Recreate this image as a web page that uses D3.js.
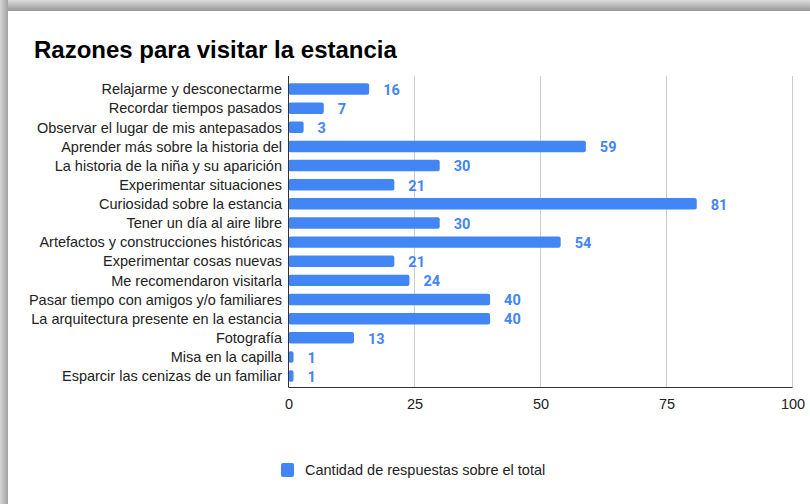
<!DOCTYPE html>
<html>
<head>
<meta charset="utf-8">
<script src="https://cdn.jsdelivr.net/npm/d3@7"></script>
<style>
  html, body { margin: 0; padding: 0; background: #fff; }
  svg { display: block; }
</style>
</head>
<body>
<div class="canvas"></div>
<script>
const categories = [
  'Relajarme y desconectarme',
  'Recordar tiempos pasados',
  'Observar el lugar de mis antepasados',
  'Aprender más sobre la historia del',
  'La historia de la niña y su aparición',
  'Experimentar situaciones',
  'Curiosidad sobre la estancia',
  'Tener un día al aire libre',
  'Artefactos y construcciones históricas',
  'Experimentar cosas nuevas',
  'Me recomendaron visitarla',
  'Pasar tiempo con amigos y/o familiares',
  'La arquitectura presente en la estancia',
  'Fotografía',
  'Misa en la capilla',
  'Esparcir las cenizas de un familiar'
];
const values = [16, 7, 3, 59, 30, 21, 81, 30, 54, 21, 24, 40, 40, 13, 1, 1];
const xTicks = [0, 25, 50, 75, 100];
const seriesName = 'Cantidad de respuestas sobre el total';
const title = 'Razones para visitar la estancia';

const data = categories.map((c, i) => ({ name: c, value: values[i] }));

const dims = { w: 810, h: 504 };
const plot = { left: 288.5, right: 792.5, top: 76, bottom: 387.5 };
const blue = '#4285f4';
const font = 'Arial, "Liberation Sans", sans-serif';

const svg = d3.select('.canvas')
  .append('svg')
    .attr('width', dims.w)
    .attr('height', dims.h);

// frame shadow (screenshot border)
const defs = svg.append('defs');
const gTop = defs.append('linearGradient').attr('id', 'shTop')
  .attr('x1', 0).attr('y1', 0).attr('x2', 0).attr('y2', 1);
gTop.append('stop').attr('offset', '0%').attr('stop-color', '#dcdcdc');
gTop.append('stop').attr('offset', '100%').attr('stop-color', '#979797');
const gLeft = defs.append('linearGradient').attr('id', 'shLeft')
  .attr('x1', 0).attr('y1', 0).attr('x2', 1).attr('y2', 0);
gLeft.append('stop').attr('offset', '0%').attr('stop-color', '#d6d6d6');
gLeft.append('stop').attr('offset', '100%').attr('stop-color', '#a0a0a0');

svg.append('rect').attr('x', 0).attr('y', 0).attr('width', dims.w).attr('height', 11)
  .attr('fill', 'url(#shTop)');
svg.append('rect').attr('x', 0).attr('y', 0).attr('width', 8).attr('height', dims.h)
  .attr('fill', 'url(#shLeft)');

// title
svg.append('text')
  .attr('x', 34)
  .attr('y', 58)
  .attr('font-family', font)
  .attr('font-size', 24)
  .attr('font-weight', 'bold')
  .attr('fill', '#000')
  .text(title);

// scales
const x = d3.scaleLinear()
  .domain([0, 100])
  .range([plot.left, plot.right]);

const y = d3.scaleBand()
  .domain(categories)
  .range([79.5, 385.6])
  .paddingInner(0.4)
  .paddingOuter(0.2);

// gridlines
svg.append('g')
  .selectAll('line')
  .data(xTicks.filter(t => t > 0))
  .join('line')
    .attr('x1', d => x(d))
    .attr('x2', d => x(d))
    .attr('y1', plot.top)
    .attr('y2', plot.bottom)
    .attr('stroke', '#cccccc')
    .attr('stroke-width', 1);

// bars
const graph = svg.append('g');
graph.selectAll('rect')
  .data(data)
  .join('rect')
    .attr('x', x(0))
    .attr('y', d => y(d.name))
    .attr('width', d => Math.max(x(d.value) - x(0), 4))
    .attr('height', y.bandwidth())
    .attr('rx', 2)
    .attr('fill', blue);

// value labels
graph.selectAll('text.val')
  .data(data)
  .join('text')
    .attr('class', 'val')
    .attr('x', d => x(d.value) + 14)
    .attr('y', d => y(d.name) + y.bandwidth() / 2)
    .attr('dy', '0.4em')
    .attr('font-family', 'Roboto, sans-serif')
    .attr('font-weight', 'bold')
    .attr('font-size', 14.5)
    .attr('fill', blue)
    .text(d => d.value);

// category labels
svg.append('g')
  .selectAll('text')
  .data(categories)
  .join('text')
    .attr('x', 282)
    .attr('y', d => y(d) + y.bandwidth() / 2)
    .attr('dy', '0.36em')
    .attr('text-anchor', 'end')
    .attr('font-family', font)
    .attr('font-size', 14.5)
    .attr('fill', '#222')
    .text(d => d);

// axis lines
svg.append('line')
  .attr('x1', plot.left).attr('x2', plot.left)
  .attr('y1', plot.top).attr('y2', plot.bottom)
  .attr('stroke', '#333').attr('stroke-width', 1);
svg.append('line')
  .attr('x1', plot.left).attr('x2', plot.right)
  .attr('y1', plot.bottom).attr('y2', plot.bottom)
  .attr('stroke', '#333').attr('stroke-width', 1);

// x tick labels
const xAxis = d3.axisBottom(x).tickValues(xTicks).tickSize(0).tickPadding(11);
const xg = svg.append('g')
  .attr('transform', `translate(0,${plot.bottom})`)
  .call(xAxis);
xg.select('.domain').remove();
xg.selectAll('text')
  .attr('font-family', font)
  .attr('font-size', 14.5)
  .attr('fill', '#222');

// legend
const legend = svg.append('g').attr('transform', 'translate(281,463)');
legend.append('rect')
  .attr('width', 13).attr('height', 14).attr('rx', 2)
  .attr('fill', blue);
legend.append('text')
  .attr('x', 24).attr('y', 7)
  .attr('dy', '0.36em')
  .attr('font-family', font)
  .attr('font-size', 14.5)
  .attr('fill', '#222')
  .text(seriesName);
</script>
</body>
</html>
